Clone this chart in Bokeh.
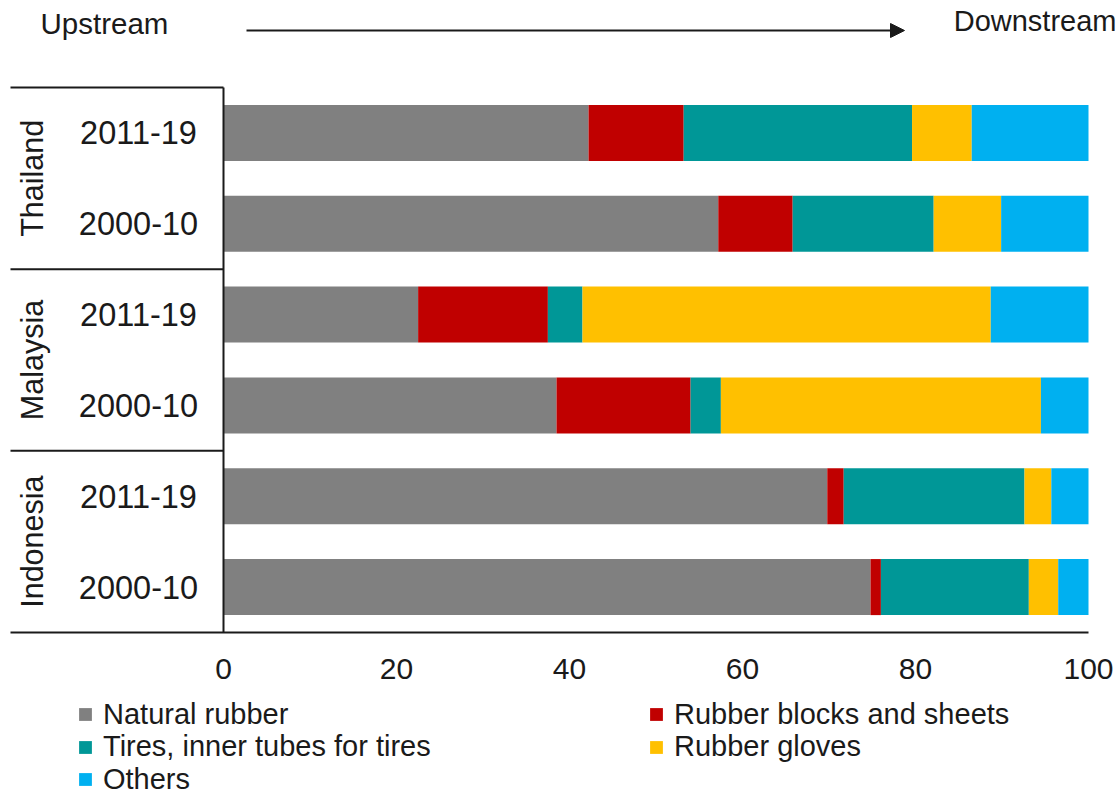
import math
from bokeh.plotting import figure
from bokeh.models import (ColumnDataSource, Range1d, Legend, LegendItem, Arrow,
                          NormalHead)
from bokeh.core.properties import value
from bokeh.embed import file_html
from bokeh.resources import INLINE

# --- data -------------------------------------------------------------
countries = ["Thailand", "Malaysia", "Indonesia"]
periods = ["2011-19", "2000-10"]
series = ["Natural rubber", "Rubber blocks and sheets",
          "Tires, inner tubes for tires", "Rubber gloves", "Others"]
# rows in order: Thailand 2011-19, Thailand 2000-10, Malaysia 2011-19,
# Malaysia 2000-10, Indonesia 2011-19, Indonesia 2000-10 (shares, %)
natural = [42.2, 57.2, 22.5, 38.5, 69.8, 74.8]
blocks = [11.0, 8.6, 15.0, 15.5, 1.9, 1.2]
tires = [26.4, 16.3, 4.0, 3.5, 20.9, 17.1]
gloves = [6.9, 7.8, 47.2, 37.0, 3.1, 3.4]
others = [13.5, 10.1, 11.3, 5.5, 4.3, 3.5]
ticks = [0, 20, 40, 60, 80, 100]

colors = ["#808080", "#C00000", "#009797", "#FFC000", "#00B0F0"]
FONT_NAME = "Liberation Sans"
FONT = value(FONT_NAME)
INK = "#1a1a1a"

W, H = 1120, 796
X0, XS = 223.0, 8.65          # pixel of 0 %, pixels per %
Y0, YS = 632.0, 90.83         # pixel of the category baseline, pixels per row


def xpx(px):
    return (px - X0) / XS


def ypx(px):
    return (Y0 - px) / YS


n_rows = len(natural)
row_y = [n_rows - i - 0.5 for i in range(n_rows)]
row_period = [periods[i % 2] for i in range(n_rows)]

src = ColumnDataSource(dict(y=row_y, period=row_period, natural=natural,
                            blocks=blocks, tires=tires, gloves=gloves,
                            others=others))

p = figure(width=W, height=H, x_range=Range1d(xpx(0), xpx(W)),
           y_range=Range1d(ypx(H), ypx(0)), x_axis_type=None,
           y_axis_type=None, output_backend="svg", toolbar_location=None,
           min_border=0)
p.grid.visible = False
p.outline_line_color = None
p.background_fill_color = "white"
p.border_fill_color = "white"

renderers = p.hbar_stack(["natural", "blocks", "tires", "gloves", "others"],
                         y="y", height=0.617, color=colors, line_color=None,
                         source=src)

# table frame on the left and the x axis line
grp_edges = [n_rows - 2 * k for k in range(len(countries) + 1)]
p.segment(x0=[xpx(10)] * 3, x1=[0] * 3, y0=grp_edges[:-1], y1=grp_edges[:-1],
          line_color=INK, line_width=2)
p.segment(x0=[xpx(10)], x1=[100], y0=[0], y1=[0], line_color=INK, line_width=2)
p.segment(x0=[0], x1=[0], y0=[0], y1=[n_rows], line_color=INK, line_width=2)

# period labels
p.text(x=xpx(138), y="y", text="period", source=src,
       text_font=FONT, text_font_size="32.5px", text_color=INK,
       text_align="center", text_baseline="middle")

# country labels, rotated
p.text(x=[xpx(31)] * len(countries),
       y=[n_rows - 2 * k - 1 for k in range(len(countries))],
       text=countries, angle=math.pi / 2, text_font=FONT,
       text_font_size="30.5px", text_color=INK, text_align="center",
       text_baseline="middle")

# x tick labels
p.text(x=ticks, y=[ypx(668)] * len(ticks), text=[str(t) for t in ticks],
       text_font=FONT, text_font_size="30px", text_color=INK,
       text_align="center", text_baseline="middle")

# upstream -> downstream arrow
p.text(x=[xpx(40)], y=[ypx(23)], text=["Upstream"], text_font=FONT,
       text_font_size="29.5px", text_color=INK, text_align="left",
       text_baseline="middle")
p.text(x=[xpx(1116)], y=[ypx(20)], text=["Downstream"], text_font=FONT,
       text_font_size="29px", text_color=INK, text_align="right",
       text_baseline="middle")
p.add_layout(Arrow(end=NormalHead(size=14, fill_color=INK, line_color=INK),
                   x_start=xpx(246), y_start=ypx(30), x_end=xpx(904),
                   y_end=ypx(30), line_color=INK, line_width=2))

# legend: two columns, one single-entry legend per row
LEG_FS = 29
item_h = 1.145 * LEG_FS


def legend_entry(i, x, center_px):
    leg = Legend(items=[LegendItem(label=series[i], renderers=[renderers[i]])],
                 location=(x, H - center_px - item_h / 2),
                 orientation="vertical",
                 glyph_width=16, glyph_height=16, label_standoff=10,
                 label_text_font=FONT_NAME,
                 label_text_font_size=f"{LEG_FS}px",
                 label_text_color=INK, label_height=16, spacing=0,
                 padding=0, margin=0, border_line_color=None,
                 background_fill_alpha=0)
    p.add_layout(leg)


legend_entry(0, 77, 714)
legend_entry(2, 77, 746.5)
legend_entry(4, 77, 779)
legend_entry(1, 648, 714)
legend_entry(3, 648, 746.5)

open("out.html", "w").write(file_html(p, INLINE))
